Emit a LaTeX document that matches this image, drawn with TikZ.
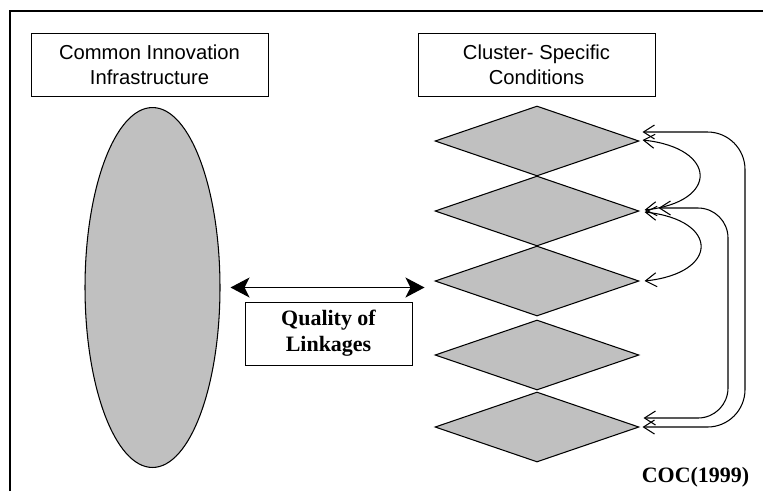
\documentclass[tikz,border=0pt]{standalone}
\usepackage{fontspec}
\setmainfont{Liberation Sans}
\newfontfamily\labelfont{Liberation Serif}
\usetikzlibrary{shapes.geometric}
\usetikzlibrary{arrows.meta}
\definecolor{shapegray}{HTML}{C0C0C0}

\begin{document}
\begin{tikzpicture}[x=0.02cm, y=-0.02cm,
    titlebox/.style={draw, rectangle, align=center, inner sep=0, line width=0.5pt,
        minimum width=4.74cm, minimum height=1.26cm, font=\fontsize{11.5}{14.2}\selectfont},
    cluster/.style={draw, diamond, fill=shapegray, inner sep=0, line width=0.6pt,
        minimum width=4.08cm, minimum height=1.4cm},
    barb/.style={{Straight Barb[length=0.22cm,width=0.28cm]}-{Straight Barb[length=0.22cm,width=0.28cm]},
        line width=0.6pt}]
            \useasboundingbox (0,0) rectangle (763,491);

            % Frame (top and left only)
            \draw[line width=0.8pt] (10,491) -- (10,11) -- (763,11);

            % Headings
            \node[titlebox] (common) at (149.5,64.5) {Common Innovation\\Infrastructure};
            \node[titlebox] (specific) at (536.5,64.5) {Cluster- Specific\\Conditions};

            % Common infrastructure
            \node[draw, ellipse, fill=shapegray, inner sep=0, line width=0.6pt,
                minimum width=2.7cm, minimum height=7.2cm] (infra) at (152.5,287.5) {};

            % Five cluster diamonds
            \node[cluster] (c1) at (537,141) {};
            \node[cluster] (c2) at (537,211) {};
            \node[cluster] (c3) at (537,281) {};
            \node[cluster] (c4) at (537,355) {};
            \node[cluster] (c5) at (537,427) {};

            % Linkages
            \node[draw, rectangle, align=center, inner sep=0, line width=0.5pt,
                minimum width=3.34cm, minimum height=1.26cm,
                font=\labelfont\bfseries\fontsize{12.5}{14.7}\selectfont] (link) at (328.5,333.5) {Quality of\\Linkages};
            \draw[{Stealth[length=0.38cm,width=0.4cm,inset=0.1cm]}-{Stealth[length=0.38cm,width=0.4cm,inset=0.1cm]}, line width=0.6pt]
                ([xshift=0.2cm]infra.east) -- ([xshift=-0.2cm]infra.east -| c3.west);

            % Links between clusters
            \coordinate (outer) at (745,0);
            \coordinate (inner) at (728,0);
            \draw[barb] ([shift={(3,-1)}]c1.east) .. controls +(75,8) and +(75,-8) .. ([shift={(5,-1)}]c2.east);
            \draw[barb] ([shift={(5,1)}]c2.east) .. controls +(75,8) and +(75,-8) .. ([shift={(5,0)}]c3.east);
            \draw[barb, rounded corners=0.75cm] ([shift={(3,-9)}]c1.east) -| (outer |- c5.east) -- ([xshift=0.06cm]c5.east);
            \draw[barb, rounded corners=0.6cm] ([shift={(19,-3)}]c2.east) -| ([yshift=0.18cm]inner |- c5.east) -- ([shift={(4,-9)}]c5.east);

            % Source
            \node[font=\labelfont\bfseries\fontsize{12.5}{14}\selectfont] (source) at (695.5,477) {COC(1999)};
        \end{tikzpicture}
\end{document}
